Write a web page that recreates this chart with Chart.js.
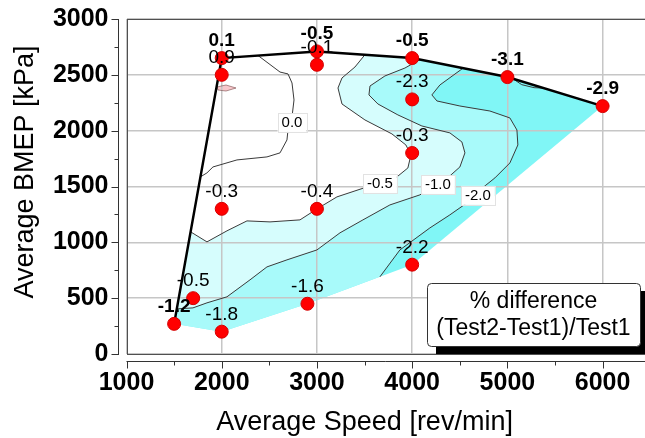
<!DOCTYPE html>
<html>
<head>
<meta charset="utf-8">
<script src="https://cdn.jsdelivr.net/npm/chart.js@4/dist/chart.umd.min.js"></script>
<style>
    html, body { margin: 0; padding: 0; background: #fff; }
    #wrap { width: 645px; height: 438px; }
</style>
</head>
<body>
<div id="wrap"><canvas id="chart" width="645" height="438"></canvas></div>
<script>
// Axis ticks
const xTicks = [1000, 2000, 3000, 4000, 5000, 6000];
const yTicks = [0, 500, 1000, 1500, 2000, 2500, 3000];
const xMinorTicks = [1500, 2500, 3500, 4500, 5500];
const yMinorTicks = [250, 750, 1250, 1750, 2250, 2750];

// Test points on the thick outer edge (low speed / full load line)
const edgeSpeed = [1500, 2000, 3000, 4000, 5000, 6000];
const edgeBmep = [270, 2650, 2710, 2650, 2480, 2220];
const edgeDiff = ['-1.2', '0.1', '-0.5', '-0.5', '-3.1', '-2.9'];

// Other test points
const innerSpeed = [1700, 2000, 2000, 2000, 2900, 3000, 3000, 4000, 4000, 4000];
const innerBmep = [500, 200, 1300, 2500, 450, 1300, 2590, 2280, 1800, 800];
const innerDiff = ['-0.5', '-1.8', '-0.3', '0.9', '-1.6', '-0.4', '-0.1', '-2.3', '-0.3', '-2.2'];

// Lower edge of the mapped area
const lowerSpeed = [1500, 2000, 2900, 4000, 6000];
const lowerBmep = [270, 200, 450, 800, 2220];

// Contour lines
const c20Speed = [3661, 3871, 4186, 4396, 4575, 4711, 4869, 5026, 5110, 5100, 5026, 4816, 4501, 4260, 4207, 4291, 4533];
const c20Bmep = [691, 932, 1129, 1246, 1353, 1469, 1577, 1711, 1872, 2006, 2114, 2176, 2221, 2266, 2320, 2409, 2559];

const c10Speed = [4081, 3924, 3714, 3557, 3546, 3640, 3850, 4102, 4396, 4522, 4554, 4501, 4396, 4270, 4081, 3766, 3483, 3242, 3000, 2685, 2475, 2297, 2055, 1845, 1698, 1528];
const c10Bmep = [2636, 2561, 2490, 2400, 2320, 2239, 2141, 2042, 1980, 1899, 1801, 1675, 1595, 1523, 1425, 1335, 1201, 1085, 932, 843, 780, 664, 512, 458, 413, 404];

const c05Speed = [1673, 1845, 2055, 2265, 2507, 2822, 3000, 3210, 3525, 3661, 3840, 3955, 3987, 3934, 3787, 3504, 3263, 3221, 3263, 3399, 3504];
const c05Bmep = [1094, 1004, 1103, 1192, 1183, 1201, 1299, 1407, 1496, 1532, 1586, 1666, 1783, 1872, 1971, 2096, 2239, 2382, 2472, 2570, 2680];

const c00Speed = [2381, 2612, 2696, 2738, 2759, 2738, 2696, 2685, 2612, 2475, 2160, 1908, 1845, 1776];
const c00Bmep = [2673, 2525, 2508, 2427, 2275, 2123, 2006, 1917, 1801, 1765, 1738, 1675, 1622, 1586];

const c30Speed = [5060, 5150, 5280, 5380];
const c30Bmep = [2464, 2412, 2385, 2381];

const pinkSpeed = [1950, 2045, 2150, 2045, 1961, 1950];
const pinkBmep = [2391, 2409, 2382, 2355, 2364, 2391];

// Contour labels
const contourLabelText = ['0.0', '-0.5', '-1.0', '-2.0'];
const contourLabelSpeed = [2738, 3661, 4270, 4690];
const contourLabelBmep = [2078, 1532, 1523, 1425];

const FONT = '"Liberation Sans", Arial, sans-serif';

function pts(xs, ys) {
    return xs.map((x, i) => ({ x: x, y: ys[i] }));
}

const edgePts = pts(edgeSpeed, edgeBmep);
const lowerPts = pts(lowerSpeed, lowerBmep);

// Filled regions: whole area, then each "above level" part on top
const areaPoly = lowerPts.concat(edgePts.slice(1, 5).reverse());
const above20Poly = pts(c20Speed, c20Bmep).concat(edgePts.slice(1, 4).reverse(), lowerPts.slice(0, 3));
const above10Poly = pts(c10Speed, c10Bmep).concat(edgePts.slice(1, 4));
const above05Poly = pts(c05Speed, c05Bmep).concat(edgePts.slice(1, 3).reverse());

function fillSet(data, color, order) {
    return {
        type: 'line', data: data, fill: 'shape', backgroundColor: color,
        borderColor: 'rgba(0,0,0,0)', borderWidth: 0, pointRadius: 0, order: order
    };
}

function contourSet(xs, ys) {
    return {
        type: 'line', data: pts(xs, ys), fill: false, borderColor: '#3a3a3a',
        borderWidth: 1, pointRadius: 0, order: 5
    };
}

// Labels above the red points
const pointLabels = {
    id: 'pointLabels',
    afterDatasetsDraw(chart) {
        const ctx = chart.ctx;
        ctx.save();

        // contour level labels in white boxes
        ctx.font = '15px ' + FONT;
        ctx.textAlign = 'center';
        ctx.textBaseline = 'middle';
        contourLabelText.forEach((t, i) => {
            const px = chart.scales.x.getPixelForValue(contourLabelSpeed[i]);
            const py = chart.scales.y.getPixelForValue(contourLabelBmep[i]);
            const w = ctx.measureText(t).width + 8;
            ctx.fillStyle = '#fff';
            ctx.fillRect(px - w / 2, py - 9, w, 19);
            ctx.strokeStyle = '#e2e2e2';
            ctx.lineWidth = 1;
            ctx.strokeRect(Math.round(px - w / 2) + 0.5, Math.round(py - 9) + 0.5, Math.round(w), 19);
            ctx.fillStyle = '#000';
            ctx.fillText(t, px, py + 1);
        });

        ctx.textBaseline = 'alphabetic';
        chart.data.datasets.forEach((ds, i) => {
            if (!ds.labels) return;
            const meta = chart.getDatasetMeta(i);
            ctx.font = (ds.labelBold ? 'bold ' : '') + '19px ' + FONT;
            ctx.fillStyle = '#000';
            meta.data.forEach((pt, j) => {
                ctx.fillText(ds.labels[j], pt.x, pt.y - 12);
            });
        });
        ctx.restore();
    }
};

// Frame, offset axes, titles and the text box
const framePlugin = {
    id: 'frame',
    afterDraw(chart) {
        const ctx = chart.ctx;
        const a = chart.chartArea;
        const xs = chart.scales.x;
        const ys = chart.scales.y;
        ctx.save();

        ctx.strokeStyle = '#505050';
        ctx.lineWidth = 1;
        ctx.strokeRect(Math.round(a.left) + 0.5, Math.round(a.top) + 0.5,
            Math.round(a.right - a.left), Math.round(a.bottom - a.top));

        // y axis, set off to the left
        const ax = Math.round(a.left) - 8.5;
        ctx.strokeStyle = '#333';
        ctx.beginPath();
        ctx.moveTo(ax, a.top);
        ctx.lineTo(ax, a.bottom + 1);
        yTicks.forEach(v => {
            const p = Math.round(ys.getPixelForValue(v)) + 0.5;
            ctx.moveTo(ax, p);
            ctx.lineTo(ax - 7, p);
        });
        yMinorTicks.forEach(v => {
            const p = Math.round(ys.getPixelForValue(v)) + 0.5;
            ctx.moveTo(ax, p);
            ctx.lineTo(ax - 4, p);
        });

        // x axis, set off below
        const ay = Math.round(a.bottom) + 7.5;
        ctx.moveTo(a.left, ay);
        ctx.lineTo(chart.width, ay);
        xTicks.forEach(v => {
            const p = Math.round(xs.getPixelForValue(v)) + 0.5;
            ctx.moveTo(p, ay);
            ctx.lineTo(p, ay + 7);
        });
        xMinorTicks.forEach(v => {
            const p = Math.round(xs.getPixelForValue(v)) + 0.5;
            ctx.moveTo(p, ay);
            ctx.lineTo(p, ay + 4);
        });
        ctx.stroke();

        // axis titles
        ctx.fillStyle = '#000';
        ctx.font = '27px ' + FONT;
        ctx.textAlign = 'center';
        ctx.textBaseline = 'alphabetic';
        ctx.fillText('Average Speed [rev/min]', xs.getPixelForValue(3500), 430);
        ctx.save();
        ctx.translate(33, 172);
        ctx.rotate(-Math.PI / 2);
        ctx.fillText('Average BMEP [kPa]', 0, 0);
        ctx.restore();

        // note box with drop shadow
        const bx = 427, by = 283, bw = 213, bh = 63;
        ctx.fillStyle = '#000';
        ctx.fillRect(bx + 9, by + 8, bw, bh);
        ctx.beginPath();
        ctx.roundRect(bx + 0.5, by + 0.5, bw, bh, 4);
        ctx.fillStyle = '#fff';
        ctx.fill();
        ctx.strokeStyle = '#333';
        ctx.stroke();
        ctx.fillStyle = '#000';
        ctx.font = '23px ' + FONT;
        ctx.textBaseline = 'middle';
        ctx.fillText('% difference', bx + bw / 2, by + 19);
        ctx.fillText('(Test2-Test1)/Test1', bx + bw / 2, by + 46);

        ctx.restore();
    }
};

const tickFont = { family: FONT, size: 25, weight: 'bold' };

function noEdgePadding(s) {
    s.paddingTop = 0;
    s.paddingBottom = 0;
    s.paddingLeft = 0;
    s.paddingRight = 0;
}

new Chart(document.getElementById('chart'), {
    type: 'scatter',
    data: {
        datasets: [
            fillSet(areaPoly, '#80f6f6', 10),
            fillSet(above20Poly, '#a8fafa', 9),
            fillSet(above10Poly, '#d6fdfd', 8),
            fillSet(above05Poly, '#ffffff', 7),
            {
                type: 'line', data: pts(pinkSpeed, pinkBmep), fill: 'shape',
                backgroundColor: '#f8c8cc', borderColor: 'rgba(110,60,60,0.7)',
                borderWidth: 0.8, pointRadius: 0, order: 6
            },
            contourSet(c20Speed, c20Bmep),
            contourSet(c10Speed, c10Bmep),
            contourSet(c05Speed, c05Bmep),
            contourSet(c00Speed, c00Bmep),
            contourSet(c30Speed, c30Bmep),
            {
                type: 'line', data: edgePts, fill: false,
                borderColor: '#000', borderWidth: 2.5,
                pointRadius: 6.5, pointBackgroundColor: '#ff0000',
                pointBorderColor: '#d40000', pointBorderWidth: 1,
                order: 2, labels: edgeDiff, labelBold: true
            },
            {
                type: 'scatter', data: pts(innerSpeed, innerBmep),
                pointRadius: 6.5, pointBackgroundColor: '#ff0000',
                pointBorderColor: '#d40000', pointBorderWidth: 1,
                order: 1, labels: innerDiff
            }
        ]
    },
    options: {
        responsive: false,
        animation: false,
        events: [],
        layout: { autoPadding: false, padding: { top: 19, right: 0, bottom: 0, left: 0 } },
        plugins: {
            legend: { display: false },
            tooltip: { enabled: false },
            filler: { drawTime: 'beforeDraw' }
        },
        scales: {
            x: {
                type: 'linear', min: 1000, max: 6445,
                afterBuildTicks: s => { s.ticks = xTicks.map(v => ({ value: v })); },
                afterFit: s => { s.height = 84; noEdgePadding(s); },
                grid: { color: '#c6c6c6', lineWidth: 1.5, drawTicks: false },
                border: { display: false },
                ticks: {
                    font: tickFont, color: '#000', padding: 14,
                    maxRotation: 0, autoSkip: false,
                    callback: v => String(v)
                }
            },
            y: {
                type: 'linear', min: 0, max: 3000,
                afterBuildTicks: s => { s.ticks = yTicks.map(v => ({ value: v })); },
                afterFit: s => { s.width = 126.5; noEdgePadding(s); },
                grid: { color: '#c6c6c6', lineWidth: 1.5, drawTicks: false },
                border: { display: false },
                ticks: {
                    font: tickFont, color: '#000', padding: 18,
                    autoSkip: false,
                    callback: v => String(v)
                }
            }
        }
    },
    plugins: [pointLabels, framePlugin]
});
</script>
</body>
</html>
